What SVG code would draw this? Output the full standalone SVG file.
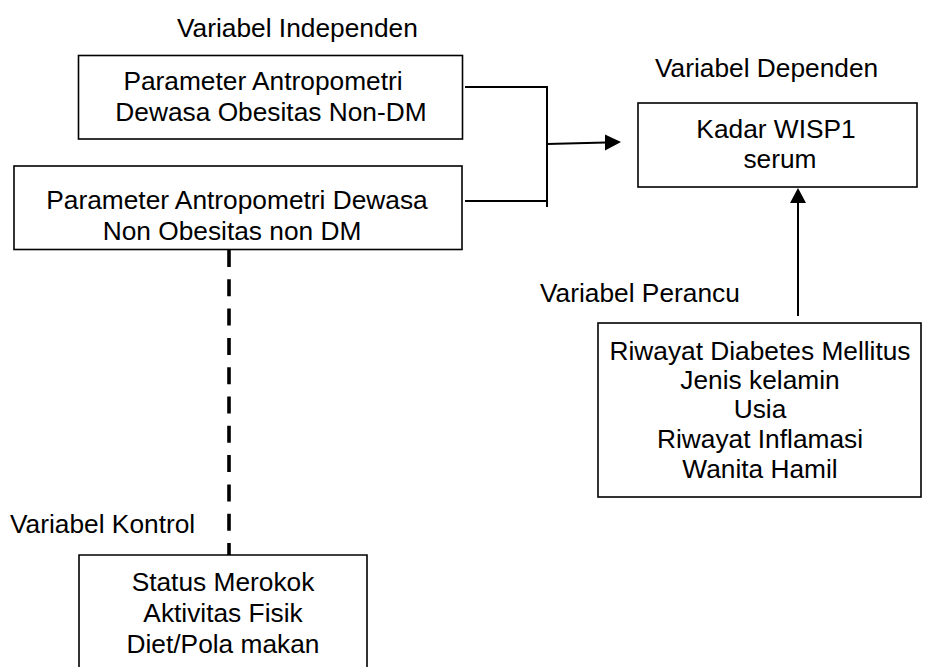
<svg xmlns="http://www.w3.org/2000/svg" width="941" height="667" viewBox="0 0 941 667">
<style>
text{font-family:"Liberation Sans",Arial,sans-serif;font-size:26.3px;fill:#000}
.c{text-anchor:middle}
.box{fill:#fff;stroke:#000;stroke-width:1.6}
.ln{fill:none;stroke:#000;stroke-width:2}
</style>
<text x="177" y="37">Variabel Independen</text>
<text x="655" y="77">Variabel Dependen</text>
<text x="540" y="302">Variabel Perancu</text>
<text x="10" y="533">Variabel Kontrol</text>
<g id="connectors">
<path class="ln" d="M465,87 H547 M465,201 H547 M547,86 V207"/>
<line x1="547" y1="144" x2="606" y2="142.5" class="ln"/>
<path d="M605,134.5 L621,142 L605,150.5 z" fill="#000"/>
<line x1="798" y1="316" x2="798" y2="202" class="ln"/>
<path d="M790,203 L798,188 L806,203 z" fill="#000"/>
<line x1="229" y1="250" x2="229" y2="555" stroke="#000" stroke-width="3.6" stroke-dasharray="17,12.3"/>
</g>
<g id="n1">
<rect class="box" x="78.5" y="55.5" width="384" height="83.5"/>
<text x="263" y="90" class="c">Parameter Antropometri</text>
<text x="271" y="121" class="c">Dewasa Obesitas Non-DM</text>
</g>
<g id="n2">
<rect class="box" x="14" y="166" width="448" height="83.5"/>
<text x="237" y="209" class="c">Parameter Antropometri Dewasa</text>
<text x="232" y="240" class="c">Non Obesitas non DM</text>
</g>
<g id="n3">
<rect class="box" x="638" y="103" width="279" height="84"/>
<text x="776" y="138" class="c">Kadar WISP1</text>
<text x="780" y="168" class="c">serum</text>
</g>
<g id="n4">
<rect class="box" x="598" y="323" width="323" height="174"/>
<text x="760" y="360" class="c">Riwayat Diabetes Mellitus</text>
<text x="760" y="389" class="c">Jenis kelamin</text>
<text x="760" y="418" class="c">Usia</text>
<text x="760" y="448" class="c">Riwayat Inflamasi</text>
<text x="760" y="478" class="c">Wanita Hamil</text>
</g>
<g id="n5">
<path class="box" d="M79,670 V555 H367 V670"/>
<text x="223" y="591" class="c">Status Merokok</text>
<text x="223" y="622" class="c">Aktivitas Fisik</text>
<text x="223" y="653" class="c">Diet/Pola makan</text>
</g>
</svg>
